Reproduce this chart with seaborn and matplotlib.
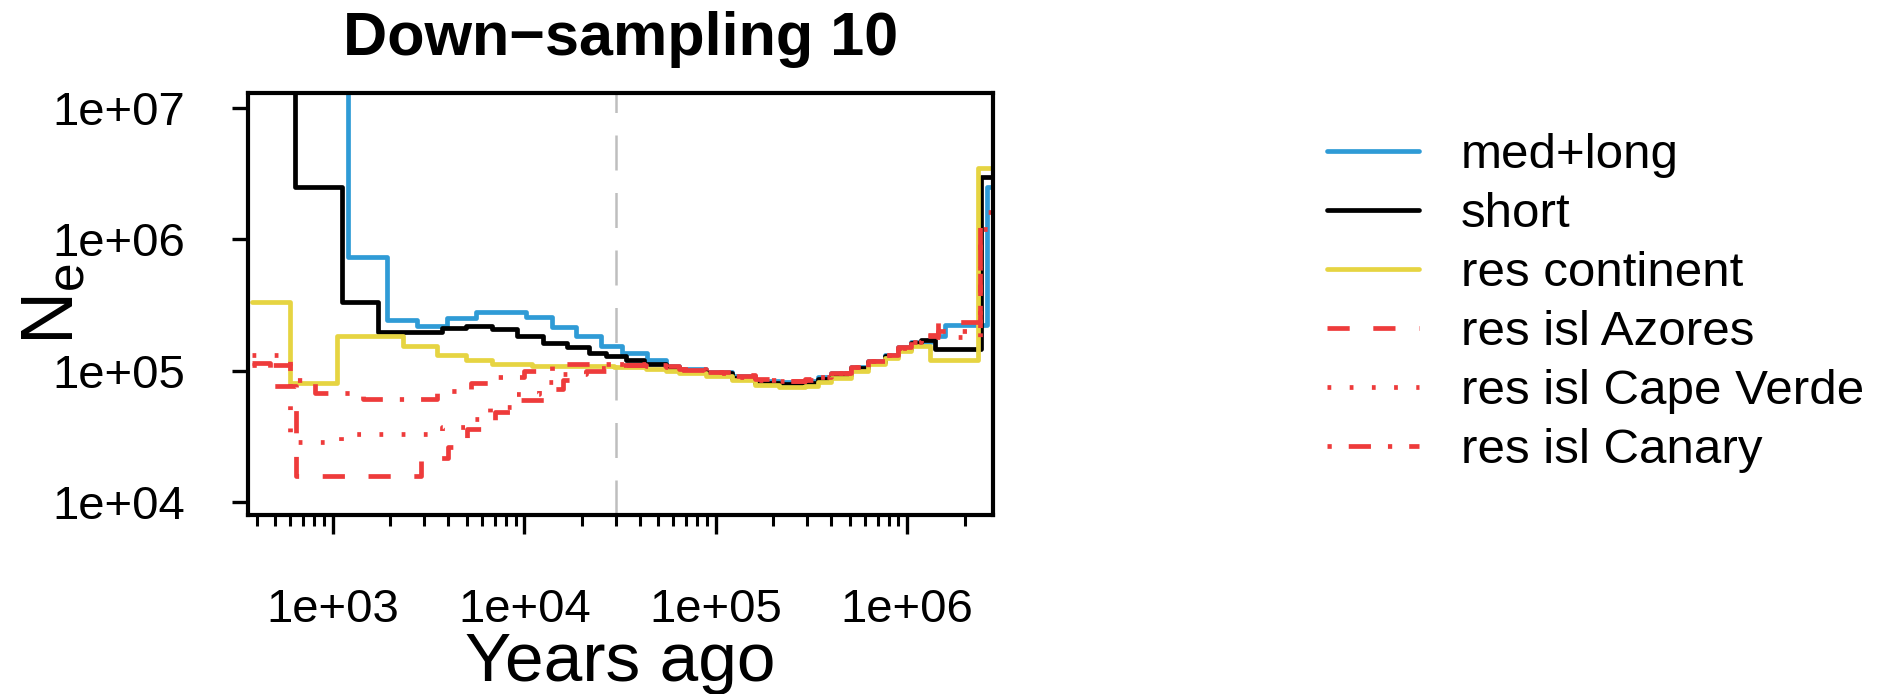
import numpy as np
import pandas as pd
import matplotlib
matplotlib.use("Agg")
import matplotlib.pyplot as plt
import matplotlib.ticker as mticker
import seaborn as sns

# ---------------- data ----------------
series_names = ["med+long", "short", "res continent",
                "res isl Azores", "res isl Cape Verde", "res isl Canary"]

t_medlong = [250, 1197, 1910, 2740, 3970, 5620, 10230, 14000, 18660, 25180, 32360,
             43750, 55000, 64100, 88700, 121000, 161000, 213000, 294000, 344000,
             402000, 511000, 627000, 767000, 897000, 1050000, 1334000, 1580000,
             2610000, 3500000]
ne_medlong = [5e7, 7.3e5, 2.44e5, 2.2e5, 2.53e5, 2.77e5, 2.58e5, 2.16e5, 1.82e5, 1.53e5, 1.37e5,
              1.2e5, 1.09e5, 1.03e5, 9.7e4, 9.1e4, 8.4e4, 8.2e4, 8.4e4, 8.9e4,
              9.5e4, 1.06e5, 1.18e5, 1.32e5, 1.5e5, 1.65e5, 1.82e5, 2.24e5,
              2.5e6, 2.5e6]

t_short = [250, 634, 1114, 1715, 3700, 4990, 6800, 9200, 12560, 16750, 21800,
           26700, 33950, 42200, 55000, 64100, 88700, 121000, 161000, 213000,
           294000, 344000, 402000, 511000, 627000, 767000, 897000, 1050000,
           1183000, 1400000, 2427000, 3500000]
ne_short = [5e7, 2.5e6, 3.35e5, 1.95e5, 2.12e5, 2.2e5, 2.09e5, 1.82e5, 1.63e5, 1.5e5, 1.37e5,
            1.28e5, 1.21e5, 1.13e5, 1.06e5, 1.0e5, 9.5e4, 8.8e4, 8.0e4, 7.9e4,
            8.1e4, 8.7e4, 9.3e4, 1.04e5, 1.16e5, 1.29e5, 1.46e5, 1.62e5,
            1.72e5, 1.45e5, 3.0e6, 3.0e6]

t_cont = [378, 597, 1050, 2317, 3480, 4990, 6800, 10960, 29500, 43150, 55000,
          64100, 88700, 121000, 161000, 213000, 294000, 344000, 402000, 511000,
          627000, 767000, 897000, 1050000, 1318000, 2344000, 3500000]
ne_cont = [3.3e5, 8.1e4, 1.82e5, 1.53e5, 1.32e5, 1.21e5, 1.13e5, 1.09e5, 1.06e5, 1.03e5, 9.9e4,
           9.5e4, 9.1e4, 8.5e4, 7.8e4, 7.5e4, 7.6e4, 8.2e4, 8.8e4, 1.0e5,
           1.12e5, 1.25e5, 1.40e5, 1.55e5, 1.21e5, 3.5e6, 3.5e6]

t_azores = [378, 470, 641, 2900, 4000, 5050, 7000, 9500, 12600, 16000, 21000,
            29500, 43150, 55000, 64100, 88700, 121000, 161000, 213000, 294000,
            344000, 402000, 511000, 627000, 767000, 897000, 1050000, 1183000,
            1450000, 2400000, 3500000]
ne_azores = [1.15e5, 7.6e4, 1.58e4, 2.17e4, 2.6e4, 3.6e4, 4.8e4, 6.0e4, 7.2e4, 8.5e4, 1.0e5,
             1.1e5, 1.1e5, 1.08e5, 1.03e5, 9.8e4, 9.2e4, 8.6e4, 8.4e4, 8.6e4,
             9.0e4, 9.6e4, 1.07e5, 1.19e5, 1.33e5, 1.5e5, 1.68e5, 1.85e5,
             2.36e5, 1.6e6, 1.6e6]

t_capeverde = [378, 597, 1100, 3700, 5000, 6600, 9000, 12000, 16000, 21000,
               29500, 43150, 55000, 64100, 88700, 121000, 161000, 213000, 294000,
               344000, 402000, 511000, 627000, 767000, 897000, 1050000, 1183000,
               1450000, 2400000, 3500000]
ne_capeverde = [1.32e5, 2.88e4, 3.3e4, 3.7e4, 4.3e4, 5.3e4, 6.6e4, 8.2e4, 9.4e4, 1.05e5,
                1.12e5, 1.1e5, 1.07e5, 1.02e5, 9.6e4, 9.0e4, 8.5e4, 8.3e4, 8.5e4,
                8.9e4, 9.5e4, 1.06e5, 1.18e5, 1.31e5, 1.48e5, 1.66e5, 1.8e5,
                1.8e5, 1.2e6, 1.2e6]

t_canary = [378, 597, 806, 1430, 3500, 5300, 6800, 10000, 14000, 29500,
            43150, 55000, 64100, 88700, 121000, 161000, 213000, 294000, 344000,
            402000, 511000, 627000, 767000, 897000, 1050000, 1183000, 1450000,
            2400000, 3500000]
ne_canary = [1.1e5, 8.5e4, 6.8e4, 6.1e4, 7.0e4, 8.0e4, 9.0e4, 1.0e5, 1.12e5, 1.1e5,
             1.09e5, 1.06e5, 1.01e5, 9.7e4, 9.1e4, 8.5e4, 8.3e4, 8.5e4, 8.9e4,
             9.5e4, 1.06e5, 1.18e5, 1.31e5, 1.48e5, 1.66e5, 1.82e5, 2.0e5,
             1.0e6, 1.0e6]

split_time = 3.0e4
x_major = [1e3, 1e4, 1e5, 1e6]
x_labels = ["1e+03", "1e+04", "1e+05", "1e+06"]
y_major = [1e4, 1e5, 1e6, 1e7]
y_labels = ["1e+04", "1e+05", "1e+06", "1e+07"]

# ---------------- styles ----------------
colors = {"med+long": "#2F9BD6", "short": "#000000", "res continent": "#E6D442",
          "res isl Azores": "#EE3B3B", "res isl Cape Verde": "#EE3B3B",
          "res isl Canary": "#EE3B3B"}
styles = {"med+long": "-", "short": "-", "res continent": "-",
          "res isl Azores": (0, (4.7, 5.0)),
          "res isl Cape Verde": (0, (0.8, 3.9)),
          "res isl Canary": (0, (0.9, 3.6, 4.7, 3.6))}

frames = []
for name, t, ne in [("med+long", t_medlong, ne_medlong), ("short", t_short, ne_short),
                    ("res continent", t_cont, ne_cont), ("res isl Azores", t_azores, ne_azores),
                    ("res isl Cape Verde", t_capeverde, ne_capeverde),
                    ("res isl Canary", t_canary, ne_canary)]:
    frames.append(pd.DataFrame({"years": t, "Ne": ne, "series": name}))
df = pd.concat(frames, ignore_index=True)

sns.set_style("ticks")
plt.rcParams["font.family"] = ["Liberation Sans", "DejaVu Sans"]
plt.rcParams["mathtext.fontset"] = "custom"
plt.rcParams["mathtext.rm"] = "Liberation Sans"
plt.rcParams["lines.linewidth"] = 3.4
for key in ["text.color", "axes.labelcolor", "xtick.color", "ytick.color", "axes.edgecolor"]:
    plt.rcParams[key] = "black"

fig = plt.figure(figsize=(18.91, 6.94), dpi=100)
ax = fig.add_axes([248 / 1891, 1 - 515 / 694, 745 / 1891, 422 / 694])
ax.set_xscale("log")
ax.set_yscale("log")

lw = 3.4
handles = []
for name in series_names:
    sub = df[df["series"] == name]
    n_before = len(ax.get_lines())
    sns.lineplot(data=sub, x="years", y="Ne", ax=ax, color=colors[name],
                 linestyle=styles[name], linewidth=lw, drawstyle="steps-post",
                 estimator=None, sort=False, label=name, legend=False)
    line = ax.get_lines()[n_before]
    line.set_linewidth(lw)
    line.set_linestyle(styles[name])
    handles.append(line)

ax.axvline(split_time, color="#BEBEBE", linewidth=1.8, linestyle=(0, (14, 9)), zorder=0.5)

ax.set_xlim(10 ** 2.557, 10 ** 6.448)
ax.set_ylim(10 ** 3.90, 10 ** 7.114)

ax.xaxis.set_major_locator(mticker.FixedLocator(x_major))
ax.xaxis.set_major_formatter(mticker.FixedFormatter(x_labels))
ax.xaxis.set_minor_locator(mticker.LogLocator(base=10, subs=np.arange(2, 10), numticks=30))
ax.xaxis.set_minor_formatter(mticker.NullFormatter())
ax.yaxis.set_major_locator(mticker.FixedLocator(y_major))
ax.yaxis.set_major_formatter(mticker.FixedFormatter(y_labels))
ax.yaxis.set_minor_locator(mticker.NullLocator())

ax.tick_params(axis="x", which="major", length=14, width=2.4, pad=38.5, labelsize=34, direction="out")
ax.tick_params(axis="x", which="minor", length=8, width=2.2, direction="out")
ax.tick_params(axis="y", which="major", length=11.5, width=2.4, pad=34, labelsize=34, direction="out")

for sp in ax.spines.values():
    sp.set_visible(True)
    sp.set_linewidth(3.0)
    sp.set_color("black")

ax.set_title("Down\u2212sampling 10", fontsize=44, fontweight="bold", y=1.09, pad=0, va="baseline")
ax.set_xlabel("Years ago", fontsize=50, va="baseline")
ax.xaxis.set_label_coords(0.5, -0.393)
ax.set_ylabel(r"$\mathregular{N_e}$", fontsize=53, va="center")
ax.yaxis.set_label_coords(-0.262, 0.5)

fig.legend(handles=handles, labels=series_names, loc="upper left",
           bbox_to_anchor=(1327 / 1891, 1 - 133 / 694), frameon=False,
           fontsize=35.5, handlelength=1.86, handletextpad=0.85, labelspacing=0.285,
           borderpad=0, borderaxespad=0)

fig.savefig("out.png", dpi=100)
